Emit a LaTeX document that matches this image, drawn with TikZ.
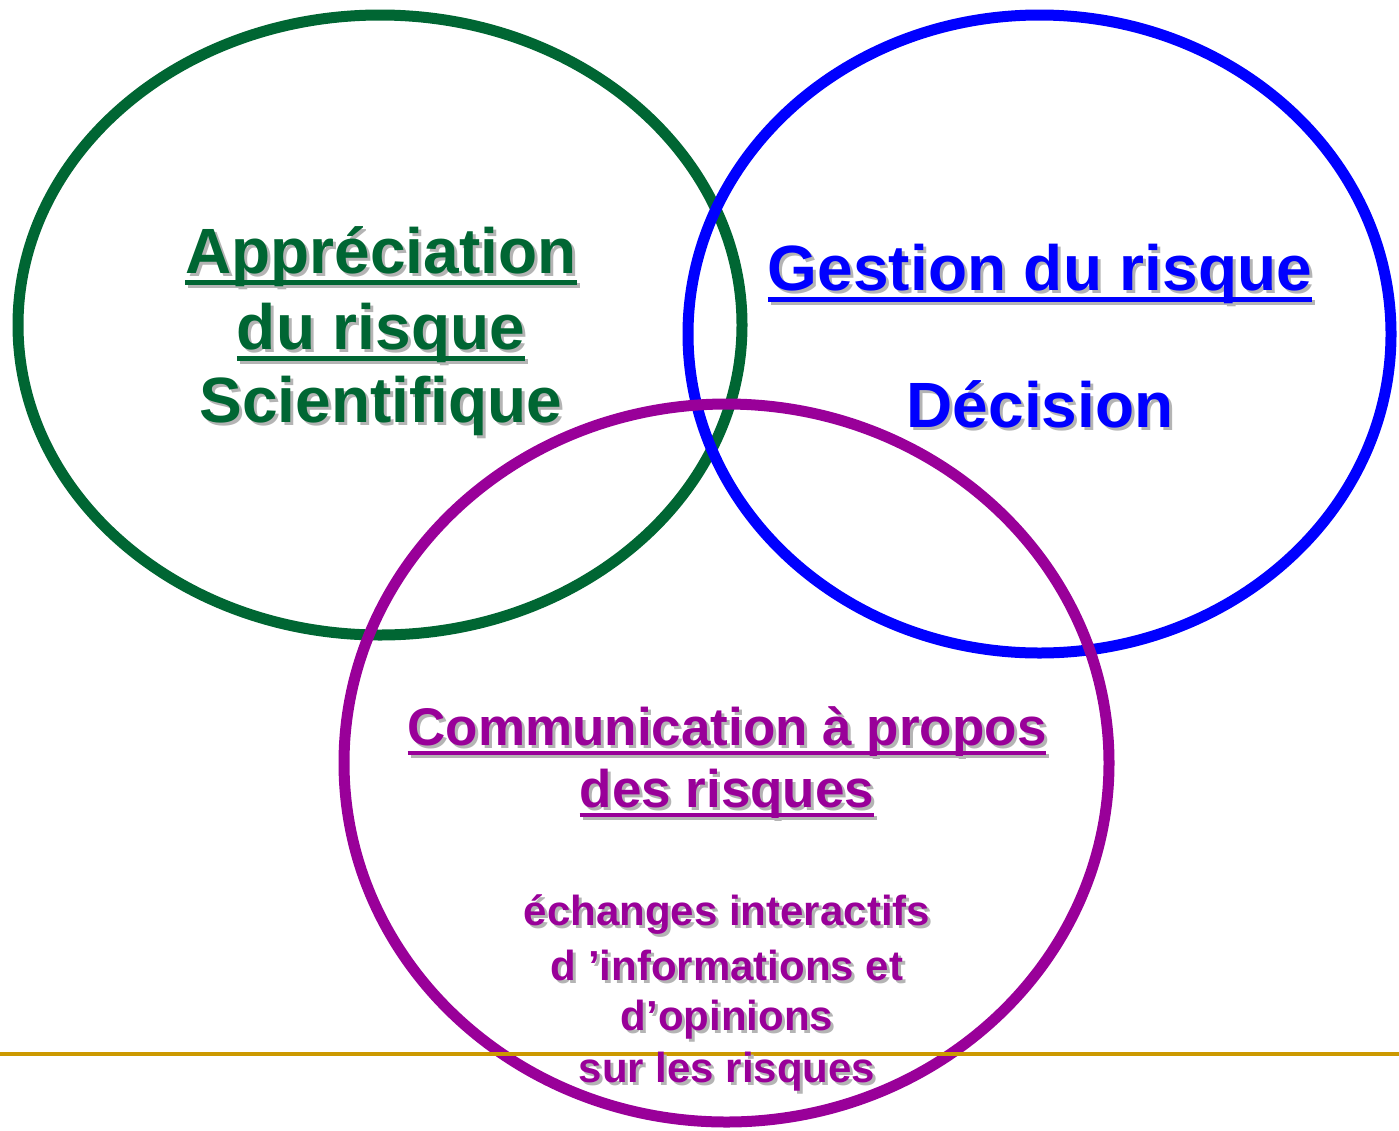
\documentclass[tikz,border=0pt]{standalone}
\usepackage{fontspec}
\setmainfont{Liberation Sans}
\definecolor{riskgreen}{HTML}{006633}
\definecolor{riskblue}{HTML}{0000FF}
\definecolor{riskpurple}{HTML}{990099}
\definecolor{rulegold}{HTML}{CC9900}
\definecolor{shadowgray}{HTML}{B4B4B4}
% underlined word group with a rule just below the baseline
\newcommand\ulbox[1]{\setbox0\hbox{#1}\rlap{\rule[-0.19em]{\wd0}{0.075em}}\box0}
% text with a soft drop shadow set behind it in the same box
\newcommand\shadowed[2]{%
  \rlap{\hspace{3pt}\raisebox{-3pt}{\color{shadowgray}#2}}{\color{#1}#2}}
\begin{document}
\begin{tikzpicture}[x=1pt, y=-1pt,
  ring/.style={line width=11pt},
  lbl/.style={anchor=base, inner sep=0pt, font=\bfseries},
  big/.style={lbl, font=\bfseries\fontsize{64}{64}\selectfont},
  mid/.style={lbl, font=\bfseries\fontsize{53}{53}\selectfont},
  small/.style={lbl, font=\bfseries\fontsize{42}{42}\selectfont}]
\useasboundingbox[fill=white] (0,0) rectangle (1399,1130);
% the three circles of the risk analysis framework
\draw[ring, riskgreen]  (380,325)    ellipse [x radius=362,   y radius=310];
\draw[ring, riskblue]   (1039.5,334) ellipse [x radius=351.5, y radius=319];
\draw[ring, riskpurple] (726.5,763)  ellipse [x radius=382.5, y radius=359];
% footer rule
\draw[rulegold, line width=4pt] (0,1054) -- (1399,1054);
% assessment
\node[big] (a1) at (381,273) {\shadowed{riskgreen}{\ulbox{Appréciation}}};
\node[big] (a2) at (381,349) {\shadowed{riskgreen}{\ulbox{du risque}}};
\node[big] (a3) at (381,422) {\shadowed{riskgreen}{Scientifique}};
% management
\node[big] (g1) at (1040,290) {\shadowed{riskblue}{\ulbox{Gestion du risque}}};
\node[big] (g2) at (1040,427) {\shadowed{riskblue}{Décision}};
% communication
\node[mid] (c1) at (727,745) {\shadowed{riskpurple}{\ulbox{Communication à propos}}};
\node[mid] (c2) at (727,807) {\shadowed{riskpurple}{\ulbox{des risques}}};
\node[small] (c3) at (727,925)  {\shadowed{riskpurple}{échanges interactifs}};
\node[small] (c4) at (727,980)  {\shadowed{riskpurple}{d ’informations et}};
\node[small] (c5) at (727,1030) {\shadowed{riskpurple}{d’opinions}};
\node[small] (c6) at (727,1082) {\shadowed{riskpurple}{sur les risques}};
\end{tikzpicture}
\end{document}
